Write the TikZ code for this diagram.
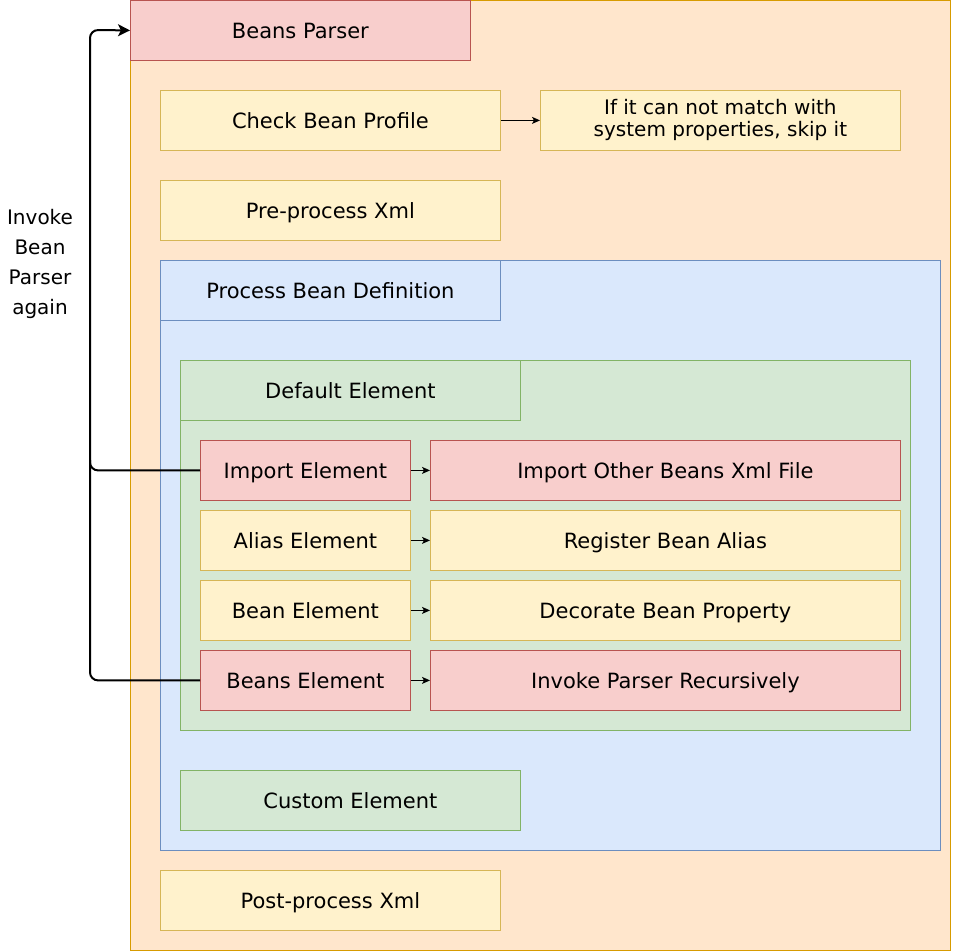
\documentclass[tikz,border=0pt]{standalone}
\usepackage{fontspec}
\setmainfont{DejaVu Sans}
\usetikzlibrary{arrows.meta}
\definecolor{ofill}{HTML}{FFE6CC}\definecolor{odraw}{HTML}{D79B00}
\definecolor{rfill}{HTML}{F8CECC}\definecolor{rdraw}{HTML}{B85450}
\definecolor{yfill}{HTML}{FFF2CC}\definecolor{ydraw}{HTML}{D6B656}
\definecolor{bfill}{HTML}{DAE8FC}\definecolor{bdraw}{HTML}{6C8EBF}
\definecolor{gfill}{HTML}{D5E8D4}\definecolor{gdraw}{HTML}{82B366}
\tikzset{
  box/.style={draw, line width=0.8pt, inner sep=0pt, font=\fontsize{21}{23}\selectfont, align=center, anchor=north west},
  obox/.style={box, fill=ofill, draw=odraw},
  rbox/.style={box, fill=rfill, draw=rdraw},
  ybox/.style={box, fill=yfill, draw=ydraw},
  bbox/.style={box, fill=bfill, draw=bdraw},
  gbox/.style={box, fill=gfill, draw=gdraw},
  lbl/.style={text height=18pt, text depth=1pt},
  thin arrow/.style={-{Stealth[length=8pt,width=7pt,inset=2pt]}, line width=0.9pt},
  big line/.style={line width=2pt, rounded corners=8pt},
}
\begin{document}
\begin{tikzpicture}[x=1pt,y=-1pt]
\useasboundingbox (0,0) rectangle (962,952);
% outer container
\node[obox, minimum width=820, minimum height=950] (outer) at (130,0) {};
\node[rbox, lbl, minimum width=340, minimum height=60] (parser) at (130,0) {Beans Parser};
\node[ybox, lbl, minimum width=340, minimum height=60] (profile) at (160,90) {Check Bean Profile};
\node[ybox, minimum width=360, minimum height=60, font=\fontsize{20}{22}\selectfont] (skip) at (540,90) {If it can not match with\\system properties, skip it};
\node[ybox, lbl, minimum width=340, minimum height=60] (pre) at (160,180) {Pre-process Xml};
% process bean definition
\node[bbox, minimum width=780, minimum height=590] (proc) at (160,260) {};
\node[bbox, lbl, minimum width=340, minimum height=60] (proclabel) at (160,260) {Process Bean Definition};
% default element
\node[gbox, minimum width=730, minimum height=370] (def) at (180,360) {};
\node[gbox, lbl, minimum width=340, minimum height=60] (deflabel) at (180,360) {Default Element};
\node[rbox, lbl, minimum width=210, minimum height=60] (imp) at (200,440) {Import Element};
\node[rbox, lbl, minimum width=470, minimum height=60] (impr) at (430,440) {Import Other Beans Xml File};
\node[ybox, lbl, minimum width=210, minimum height=60] (alias) at (200,510) {Alias Element};
\node[ybox, lbl, minimum width=470, minimum height=60] (aliasr) at (430,510) {Register Bean Alias};
\node[ybox, lbl, minimum width=210, minimum height=60] (bean) at (200,580) {Bean Element};
\node[ybox, lbl, minimum width=470, minimum height=60] (beanr) at (430,580) {Decorate Bean Property};
\node[rbox, lbl, minimum width=210, minimum height=60] (beans) at (200,650) {Beans Element};
\node[rbox, lbl, minimum width=470, minimum height=60] (beansr) at (430,650) {Invoke Parser Recursively};
\node[gbox, lbl, minimum width=340, minimum height=60] (custom) at (180,770) {Custom Element};
\node[ybox, lbl, minimum width=340, minimum height=60] (post) at (160,870) {Post-process Xml};
% thin arrows
\draw[thin arrow] (profile.east) -- (skip.west);
\draw[thin arrow] (imp.east) -- (impr.west);
\draw[thin arrow] (alias.east) -- (aliasr.west);
\draw[thin arrow] (bean.east) -- (beanr.west);
\draw[thin arrow] (beans.east) -- (beansr.west);
% recursion connectors
\coordinate (turn) at (90,30);
\coordinate (join) at (90,460);
\draw[big line, -{Stealth[length=12pt,width=12pt,inset=3pt]}] (imp.west) -| (turn) -- (parser.west);
\draw[big line] (beans.west) -| (join);
\node[font=\fontsize{20}{30}\selectfont, align=center] (lbl) at (40,264) {Invoke\\Bean\\Parser\\again};
\end{tikzpicture}
\end{document}
